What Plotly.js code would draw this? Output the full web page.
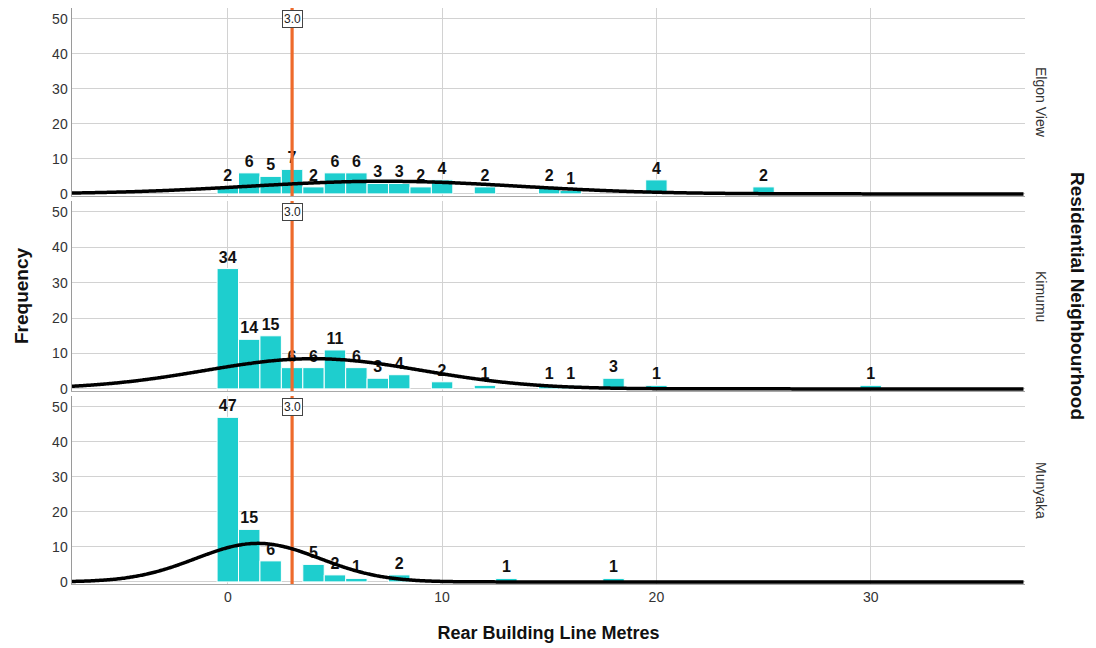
<!DOCTYPE html>
<html>
<head>
<meta charset="utf-8">
<script src="https://cdn.plot.ly/plotly-3.0.1.min.js"></script>
<style>html,body{margin:0;padding:0;background:#fff;}#chart{width:1096px;height:648px;}</style>
</head>
<body>
<div id="chart"></div>
<script>
// ---- data ----
const neighbourhoods = ["Elgon View", "Kimumu", "Munyaka"];

const elgonX = [0, 1, 2, 3, 4, 5, 6, 7, 8, 9, 10, 12, 15, 16, 20, 25];
const elgonY = [2, 6, 5, 7, 2, 6, 6, 3, 3, 2, 4, 2, 2, 1, 4, 2];

const kimumuX = [0, 1, 2, 3, 4, 5, 6, 7, 8, 10, 12, 15, 16, 18, 20, 30];
const kimumuY = [34, 14, 15, 6, 6, 11, 6, 3, 4, 2, 1, 1, 1, 3, 1, 1];

const munyakaX = [0, 1, 2, 4, 5, 6, 8, 13, 18];
const munyakaY = [47, 15, 6, 5, 2, 1, 2, 1, 1];

// normal-curve parameters (mean, sd)
const fitMean = [7.3, 4.0, 1.4];
const fitSd = [6.3, 5.1, 2.9];

const referenceValue = 3.0;
const yTicks = [0, 10, 20, 30, 40, 50];
const xTicks = [0, 10, 20, 30];

// ---- build traces ----
const series = [[elgonX, elgonY], [kimumuX, kimumuY], [munyakaX, munyakaY]];
const xRange = [-7.27, 37.2];
const yRange = [-0.6, 53.1];
const barColor = "#1ECECE";
const refColor = "#EE6A2B";

const traces = [];
const curveX = [];
for (let v = xRange[0]; v <= xRange[1] + 0.001; v += 0.1) curveX.push(v);

series.forEach((s, i) => {
  const xa = i === 0 ? "x" : "x" + (i + 1);
  const ya = i === 0 ? "y" : "y" + (i + 1);
  traces.push({
    type: "bar", x: s[0], y: s[1], xaxis: xa, yaxis: ya,
    width: 1,
    marker: {color: barColor, line: {color: "#ffffff", width: 1}},
    text: s[1].map(String), textposition: "outside", constraintext: "none",
    cliponaxis: false,
    textfont: {family: "Liberation Sans, Arial, sans-serif", size: 16, color: "#111", weight: "bold"},
    hoverinfo: "x+y", showlegend: false
  });
  traces.push({
    type: "scatter", mode: "lines", x: [referenceValue, referenceValue], y: [yRange[0], yRange[1]],
    xaxis: xa, yaxis: ya, line: {color: refColor, width: 3.2}, showlegend: false, hoverinfo: "skip"
  });
  const n = s[1].reduce((a, b) => a + b, 0);
  const m = fitMean[i], sd = fitSd[i];
  const cy = curveX.map(v => n / (sd * Math.sqrt(2 * Math.PI)) * Math.exp(-0.5 * Math.pow((v - m) / sd, 2)));
  traces.push({
    type: "scatter", mode: "lines", x: curveX, y: cy, xaxis: xa, yaxis: ya,
    line: {color: "#000000", width: 3.5, shape: "spline"}, showlegend: false, hoverinfo: "skip", cliponaxis: true
  });
});

// ---- layout ----
const tickFont = {family: "Liberation Sans, Arial, sans-serif", size: 14, color: "#333"};
const H = 576; // plot area height (648 - t - b)
const dom = [
  [(584 - 196) / H, 1],
  [(584 - 391) / H, (584 - 201) / H],
  [0, (584 - 396) / H]
];

function xAxis(show) {
  return {
    range: xRange, tickvals: xTicks, ticktext: xTicks.map(String), showticklabels: show,
    showgrid: true, gridcolor: "#d2d2d2", gridwidth: 1, zeroline: false,
    showline: true, linecolor: "#a8a8a8", linewidth: 1, ticks: "", tickfont: tickFont, fixedrange: true
  };
}
function yAxis(d) {
  return {
    domain: d, range: yRange, tickvals: yTicks, ticktext: yTicks.map(String),
    showgrid: true, gridcolor: "#d2d2d2", gridwidth: 1, zeroline: false,
    showline: true, linecolor: "#9a9a9a", linewidth: 1.5, ticks: "", tickfont: tickFont, fixedrange: true
  };
}

const annotations = [];
const boldFont = (sz) => ({family: "Liberation Sans, Arial, sans-serif", size: sz, color: "#111", weight: "bold"});
neighbourhoods.forEach((name, i) => {
  const xa = i === 0 ? "x" : "x" + (i + 1);
  const ya = i === 0 ? "y" : "y" + (i + 1);
  annotations.push({
    text: name, xref: "paper", yref: ya + " domain", x: 1, y: 0.5, xshift: 16, xanchor: "center", yanchor: "middle",
    textangle: 90, showarrow: false, font: {family: "Liberation Sans, Arial, sans-serif", size: 14, color: "#333"}
  });
  annotations.push({
    text: referenceValue.toFixed(1), xref: xa, yref: ya, x: referenceValue, y: 50, showarrow: false,
    bgcolor: "#ffffff", bordercolor: "#444", borderwidth: 1, borderpad: 1,
    font: {family: "Liberation Sans, Arial, sans-serif", size: 12, color: "#222"}
  });
});
annotations.push({
  text: "Residential Neighbourhood", xref: "paper", yref: "paper", x: 1, xshift: 53, y: (584 - 296) / H,
  textangle: 90, showarrow: false, font: boldFont(19), xanchor: "center", yanchor: "middle"
});

const layout = {
  width: 1096, height: 648,
  margin: {l: 72, r: 71, t: 8, b: 64},
  paper_bgcolor: "#ffffff", plot_bgcolor: "#ffffff",
  bargap: 0,
  xaxis: Object.assign(xAxis(false), {anchor: "y"}),
  xaxis2: Object.assign(xAxis(false), {anchor: "y2", matches: "x"}),
  xaxis3: Object.assign(xAxis(true), {anchor: "y3", matches: "x",
    title: {text: "Rear Building Line Metres", font: boldFont(18), standoff: 22}}),
  yaxis: Object.assign(yAxis(dom[0]), {anchor: "x"}),
  yaxis2: Object.assign(yAxis(dom[1]), {anchor: "x2",
    title: {text: "Frequency", font: boldFont(19), standoff: 18}}),
  yaxis3: Object.assign(yAxis(dom[2]), {anchor: "x3"}),
  annotations: annotations,
  showlegend: false
};

Plotly.newPlot("chart", traces, layout, {staticPlot: true, displayModeBar: false});
</script>
</body>
</html>
